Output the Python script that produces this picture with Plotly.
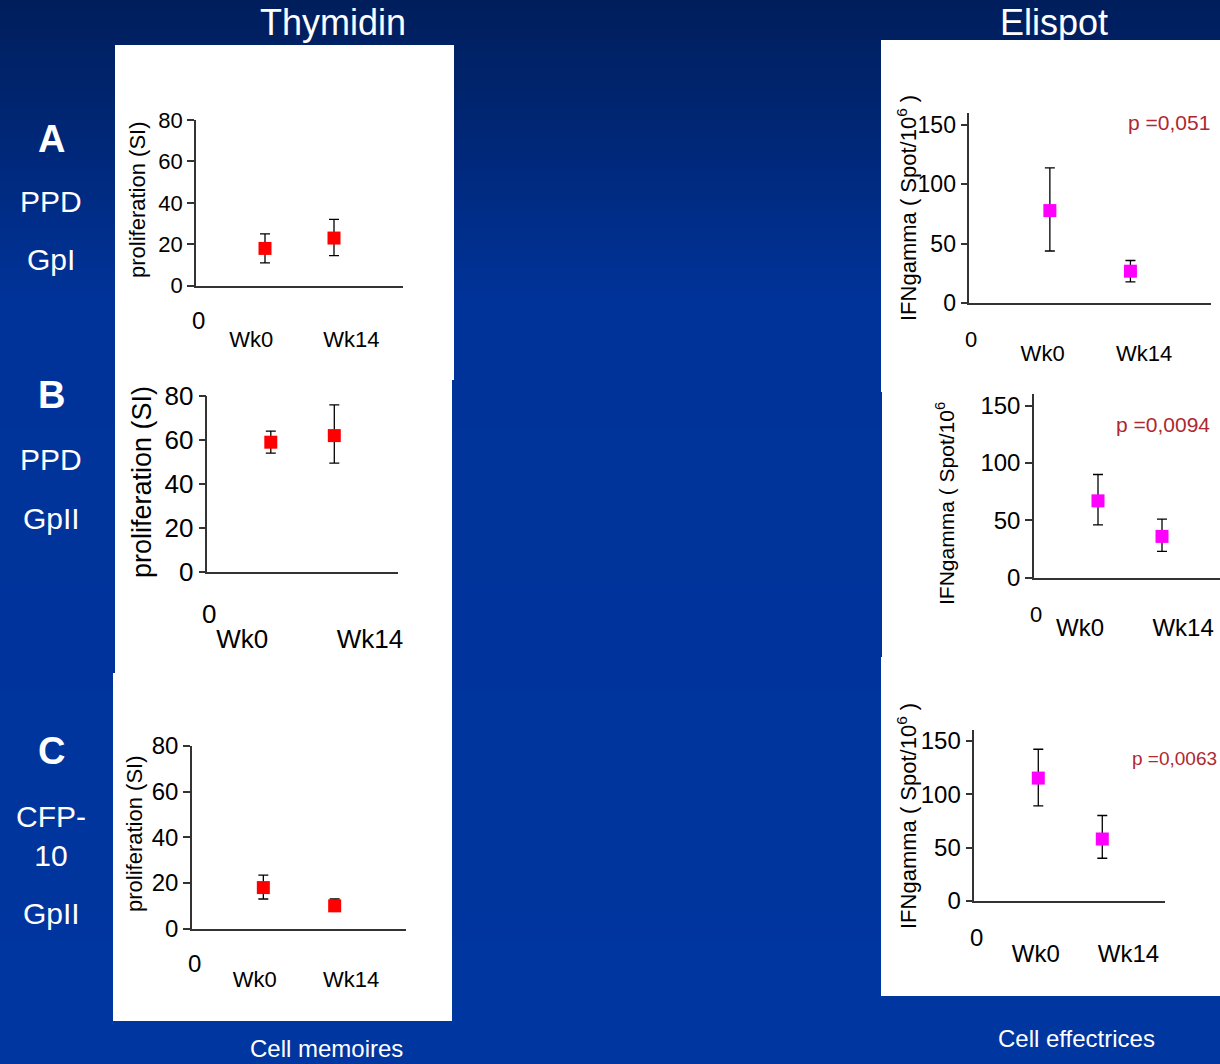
import plotly.graph_objects as go

W, H = 1220, 1064

# ---------------- data ----------------
time_labels = ["Wk0", "Wk14"]
time_x = [1, 2]

# Thymidin proliferation (SI)
prolif_A = [18, 23]
prolif_A_up = [7, 9]
prolif_A_dn = [7, 8.5]
prolif_B = [59, 62]
prolif_B_up = [5, 14]
prolif_B_dn = [5, 12.5]
prolif_C = [18, 10]
prolif_C_up = [5.5, 3]
prolif_C_dn = [5, 2]

# Elispot IFNgamma (Spot/10^6)
ifn_A = [78, 27]
ifn_A_up = [36, 9]
ifn_A_dn = [34, 9]
ifn_B = [67, 36]
ifn_B_up = [23, 15]
ifn_B_dn = [21, 13]
ifn_C = [115, 58]
ifn_C_up = [27, 22]
ifn_C_dn = [26, 18]

p_values = ["p =0,051", "p =0,0094", "p =0,0063"]
prolif_ticks = [0, 20, 40, 60, 80]
ifn_ticks = [0, 50, 100, 150]
row_letters = ["A", "B", "C"]
row_antigens = ["PPD", "PPD", "CFP-<br>10"]
row_groups = ["GpI", "GpII", "GpII"]
col_titles = ["Thymidin", "Elispot"]
col_footers = ["Cell memoires", "Cell effectrices"]
prolif_title = "proliferation (SI)"
ifn_title = "IFNgamma ( Spot/10<sup>6</sup> )"
ifn_title_cut = "IFNgamma ( Spot/10<sup>6</sup>"

FONT = "Liberation Sans, Arial, sans-serif"
RED = "#FF0000"
MAGENTA = "#FF00FF"
AXC = "#333333"
PCOL = "#B0272F"


def px(x):
    return x / W


def py(y):
    return 1 - y / H


# ---------------- panel geometry (pixel layout) ----------------
panels = [
    dict(y=prolif_A, up=prolif_A_up, dn=prolif_A_dn, color=RED, ticks=prolif_ticks, ymax=80,
         x0=196, x1=403, xmax=3, y0=285.7, y1=120, tfont=22, xfont=22, xlen=33, lab=[0.80, 2.25],
         zdy=35, zfont=24, title=prolif_title, tx=137, ty=200, tsize=22),
    dict(y=prolif_B, up=prolif_B_up, dn=prolif_B_dn, color=RED, ticks=prolif_ticks, ymax=80,
         x0=207.3, x1=397.8, xmax=3, y0=572, y1=396, tfont=26, xfont=26, xlen=43, lab=[0.55, 2.56],
         zdy=42, zfont=26, title=prolif_title, tx=142, ty=482, tsize=27),
    dict(y=prolif_C, up=prolif_C_up, dn=prolif_C_dn, color=RED, ticks=prolif_ticks, ymax=80,
         x0=192, x1=406, xmax=3, y0=928.7, y1=746, tfont=24, xfont=22, xlen=30, lab=[0.88, 2.23],
         zdy=35, zfont=24, title=prolif_title, tx=134, ty=834, tsize=22),
    dict(y=ifn_A, up=ifn_A_up, dn=ifn_A_dn, color=MAGENTA, ticks=ifn_ticks, ymax=160,
         x0=969.3, x1=1211, xmax=3, y0=303.3, y1=113.1, tfont=23, xfont=22, xlen=30, lab=[0.91, 2.17],
         zdy=36, zfont=22, title=ifn_title, tx=907, ty=208, tsize=22,
         p=p_values[0], p_x=1212, p_y=122, p_anchor="right", p_size=21),
    dict(y=ifn_B, up=ifn_B_up, dn=ifn_B_dn, color=MAGENTA, ticks=ifn_ticks, ymax=160,
         x0=1034, x1=1220, xmax=(1220 - 1034) / 64, y0=577.7, y1=394.2, tfont=24, xfont=24, xlen=28,
         lab=[0.72, 2.33], zdy=37, zfont=22, title=ifn_title_cut, tx=945, ty=504, tsize=21,
         p=p_values[1], p_x=1212, p_y=424, p_anchor="right", p_size=21),
    dict(y=ifn_C, up=ifn_C_up, dn=ifn_C_dn, color=MAGENTA, ticks=ifn_ticks, ymax=160,
         x0=974.3, x1=1165, xmax=2.98, y0=901, y1=730, tfont=24, xfont=24, xlen=30, lab=[0.96, 2.41],
         zdy=36, zfont=24, title=ifn_title, tx=907, ty=816, tsize=22,
         p=p_values[2], p_x=1130, p_y=758, p_anchor="left", p_size=19),
]

white_boxes = [
    (115, 45, 454, 380), (115, 380, 452, 673), (113, 673, 452, 1021),
    (881, 40, 1220, 392), (882, 392, 1220, 657), (881, 657, 1220, 996),
]

fig = go.Figure()
shapes = []
annotations = []

# background gradient
def lerp(c0, c1, t):
    return tuple(round(a + (b - a) * t) for a, b in zip(c0, c1))

top_c, mid_c, bot_c = (0, 30, 92), (0, 51, 153), (0, 54, 160)
step = 10
for yy in range(0, H, step):
    if yy < 300:
        c = lerp(top_c, mid_c, yy / 300)
    else:
        c = lerp(mid_c, bot_c, (yy - 300) / (H - 300))
    shapes.append(dict(type="rect", xref="paper", yref="paper", x0=0, x1=1,
                       y0=py(min(yy + step + 1, H)), y1=py(yy), line_width=0,
                       fillcolor="rgb(%d,%d,%d)" % c, layer="below"))

for (a, b, c, d) in white_boxes:
    shapes.append(dict(type="rect", xref="paper", yref="paper", x0=px(a), x1=px(c),
                       y0=py(d), y1=py(b), line_width=0, fillcolor="white", layer="below"))

layout_axes = {}
for i, p in enumerate(panels, start=1):
    xa = "x" if i == 1 else "x%d" % i
    ya = "y" if i == 1 else "y%d" % i
    fig.add_trace(go.Scatter(
        x=time_x, y=p["y"], mode="markers", xaxis=xa, yaxis=ya, showlegend=False,
        marker=dict(symbol="square", size=13, color=p["color"]),
        error_y=dict(type="data", symmetric=False, array=p["up"], arrayminus=p["dn"],
                     color="black", thickness=1.3, width=5),
        cliponaxis=False, hoverinfo="x+y"))
    xkey = "xaxis" if i == 1 else "xaxis%d" % i
    ykey = "yaxis" if i == 1 else "yaxis%d" % i
    layout_axes[xkey] = dict(
        domain=[px(p["x0"]), px(p["x1"])], anchor=ya, range=[0, p["xmax"]], automargin=False,
        showline=True, linecolor=AXC, linewidth=1.5, showgrid=False, zeroline=False,
        ticks="outside", ticklen=p["xlen"], tickcolor="rgba(0,0,0,0)",
        tickvals=p["lab"], ticktext=time_labels,
        tickfont=dict(family=FONT, size=p["xfont"], color="black"), fixedrange=True)
    layout_axes[ykey] = dict(
        domain=[py(p["y0"]), py(p["y1"])], anchor=xa, range=[0, p["ymax"]], automargin=False,
        showline=True, linecolor=AXC, linewidth=1.5, showgrid=False, zeroline=False,
        ticks="outside", ticklen=7, tickwidth=1.5, tickcolor=AXC, tickvals=p["ticks"],
        tickfont=dict(family=FONT, size=p["tfont"], color="black"), fixedrange=True)
    # origin "0" label of the x axis
    annotations.append(dict(xref=xa, yref=ya, x=0, y=0, yshift=-p["zdy"], xshift=2,
                            text="0", showarrow=False, xanchor="center", yanchor="middle",
                            font=dict(family=FONT, size=p["zfont"], color="black")))
    # y-axis title
    annotations.append(dict(xref="paper", yref="paper", x=px(p["tx"]), y=py(p["ty"]),
                            text=p["title"], textangle=-90, showarrow=False,
                            xanchor="center", yanchor="middle",
                            font=dict(family=FONT, size=p["tsize"], color="black")))
    if "p" in p:
        annotations.append(dict(xref="paper", yref="paper", x=px(p["p_x"]), y=py(p["p_y"]),
                                text=p["p"], showarrow=False, xanchor=p["p_anchor"],
                                yanchor="middle",
                                font=dict(family=FONT, size=p["p_size"], color=PCOL)))

# column titles and footers
for txt, xx in zip(col_titles, [333, 1054]):
    annotations.append(dict(xref="paper", yref="paper", x=px(xx), y=py(23), text=txt,
                            showarrow=False, xanchor="center", yanchor="middle",
                            font=dict(family=FONT, size=36, color="white")))
for txt, xx, yy in zip(col_footers, [326, 1076], [1048, 1038]):
    annotations.append(dict(xref="paper", yref="paper", x=px(xx), y=py(yy), text=txt,
                            showarrow=False, xanchor="center", yanchor="middle",
                            font=dict(family=FONT, size=24, color="white")))

# row labels
letter_y = [139, 395, 751]
antigen_y = [201, 459, 836]
group_y = [259, 518, 913]
for k in range(3):
    annotations.append(dict(xref="paper", yref="paper", x=px(51), y=py(letter_y[k]),
                            text="<b>%s</b>" % row_letters[k], showarrow=False,
                            xanchor="center", yanchor="middle",
                            font=dict(family=FONT, size=38, color="white")))
    annotations.append(dict(xref="paper", yref="paper", x=px(51), y=py(antigen_y[k]),
                            text=row_antigens[k], showarrow=False,
                            xanchor="center", yanchor="middle",
                            font=dict(family=FONT, size=30, color="white")))
    annotations.append(dict(xref="paper", yref="paper", x=px(51), y=py(group_y[k]),
                            text=row_groups[k], showarrow=False,
                            xanchor="center", yanchor="middle",
                            font=dict(family=FONT, size=30, color="white")))

fig.update_layout(
    width=W, height=H, margin=dict(l=0, r=0, t=0, b=0, pad=0, autoexpand=False),
    paper_bgcolor="rgb(0,51,153)", plot_bgcolor="rgba(0,0,0,0)",
    shapes=shapes, annotations=annotations, showlegend=False,
    font=dict(family=FONT), **layout_axes)

fig.write_html(
    "out.html",
    config={"displayModeBar": False},
    post_script="document.body.style.margin='0';document.body.style.padding='0';"
                "document.body.style.overflow='hidden';",
)
